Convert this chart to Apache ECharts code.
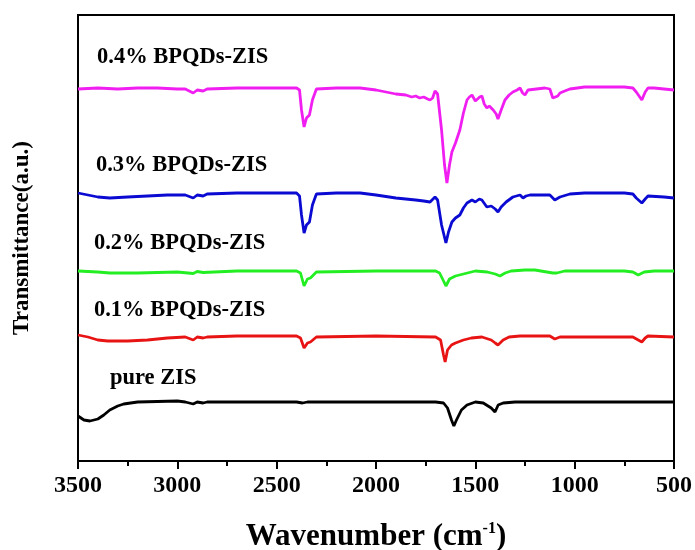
<!DOCTYPE html>
<html style="height: 100%">
<head>
<meta charset="UTF-8" />
<title>FTIR BPQDs-ZIS</title>
<style>
html, body { margin: 0; padding: 0; background: #ffffff; }
#chartBox { width: 695px; height: 550px; }
</style>
</head>
<body>
	<div id="chartBox"></div>

	<script src="https://cdn.jsdelivr.net/npm/echarts@6/dist/echarts.min.js"></script>
	<script>
		// 谱线数据 [波数 cm-1, 透过率 a.u.]
		var seriesNames = ['0.4% BPQDs-ZIS', '0.3% BPQDs-ZIS', '0.2% BPQDs-ZIS', '0.1% BPQDs-ZIS', 'pure ZIS'];
		var seriesColors = ['#f01ef0', '#0a0ad2', '#22ee22', '#e81414', '#000000'];

		var bp04 = [
			[3500, 372], [3400, 373], [3300, 372], [3200, 373], [3100, 373], [3000, 372], [2960, 372],
			[2920, 368], [2900, 371], [2870, 370], [2850, 372], [2700, 373], [2500, 373], [2400, 373],
			[2385, 371], [2375, 351], [2362, 334], [2350, 343], [2335, 346], [2320, 361], [2300, 372],
			[2200, 373], [2080, 373], [2000, 371], [1950, 369], [1900, 367], [1850, 366], [1820, 364],
			[1800, 365], [1780, 363], [1760, 364], [1740, 362], [1728, 361], [1715, 363], [1703, 370],
			[1690, 367], [1670, 331], [1655, 296], [1643, 278], [1630, 296], [1618, 309], [1600, 318],
			[1578, 331], [1560, 348], [1542, 361], [1530, 364], [1517, 366], [1500, 360], [1490, 359],
			[1478, 364], [1467, 365], [1455, 357], [1442, 353], [1430, 355], [1410, 351], [1395, 347],
			[1386, 342], [1370, 351], [1351, 361], [1330, 366], [1311, 369], [1290, 371], [1275, 373],
			[1262, 368], [1250, 366], [1235, 371], [1225, 373], [1150, 373], [1125, 372], [1110, 363],
			[1100, 361], [1085, 365], [1074, 368], [1050, 370], [1024, 372], [950, 374], [850, 374],
			[750, 374], [707, 373], [690, 369], [662, 361], [645, 369], [631, 373], [600, 373],
			[550, 372], [500, 371]
		];
		var bp03 = [
			[3500, 268], [3450, 266], [3400, 264], [3340, 263], [3250, 264], [3150, 265], [3050, 266],
			[2960, 266], [2920, 263], [2900, 266], [2870, 265], [2850, 267], [2700, 268], [2500, 268],
			[2400, 268], [2385, 265], [2375, 246], [2362, 228], [2350, 236], [2335, 239], [2320, 256],
			[2300, 267], [2200, 268], [2080, 268], [2000, 266], [1900, 263], [1850, 262], [1800, 261],
			[1760, 260], [1728, 259], [1703, 264], [1690, 261], [1670, 236], [1648, 218], [1635, 229],
			[1618, 239], [1600, 243], [1578, 246], [1560, 253], [1542, 258], [1517, 261], [1500, 259],
			[1480, 262], [1467, 261], [1442, 254], [1420, 255], [1400, 252], [1386, 249], [1370, 254],
			[1345, 259], [1311, 264], [1275, 266], [1260, 263], [1245, 265], [1225, 266], [1125, 266],
			[1100, 261], [1074, 264], [1024, 267], [950, 268], [750, 268], [707, 267], [690, 263],
			[662, 258], [645, 262], [631, 265], [550, 264], [500, 263]
		];
		var bp02 = [
			[3500, 190], [3400, 189], [3340, 188], [3200, 188], [3000, 189], [2920, 187.5], [2900, 189.5],
			[2870, 188.5], [2700, 190], [2400, 190], [2380, 188], [2362, 175], [2345, 182], [2330, 183],
			[2300, 189], [2000, 190], [1700, 190], [1680, 188], [1660, 180], [1648, 175], [1630, 182],
			[1600, 185], [1560, 187], [1540, 188], [1500, 190], [1440, 189], [1400, 187], [1376, 185],
			[1350, 188], [1320, 190], [1250, 191], [1200, 191], [1110, 188], [1090, 188], [1050, 190],
			[750, 190], [707, 189], [680, 186], [650, 189], [600, 190], [500, 190]
		];
		var bp01 = [
			[3500, 126], [3450, 124], [3400, 121], [3350, 120], [3250, 120], [3150, 121], [3050, 123],
			[2960, 124], [2920, 121], [2900, 124], [2870, 123], [2850, 124], [2700, 125], [2400, 125],
			[2380, 123], [2362, 113], [2345, 118], [2330, 119], [2300, 124], [2000, 125], [1700, 124],
			[1675, 121], [1660, 106], [1652, 99], [1640, 111], [1620, 116], [1600, 118], [1560, 121],
			[1520, 123], [1467, 124], [1420, 121], [1400, 118], [1386, 116], [1360, 121], [1330, 124],
			[1275, 125], [1125, 125], [1100, 122], [1074, 124], [750, 124], [707, 124], [680, 121],
			[662, 119], [645, 123], [631, 125], [500, 124]
		];
		var pureZIS = [
			[3500, 45], [3470, 41], [3440, 40], [3400, 42], [3370, 46], [3340, 51], [3300, 55],
			[3270, 57], [3200, 59], [3100, 59.5], [3000, 60], [2960, 59], [2920, 57], [2900, 59],
			[2870, 58], [2850, 59], [2700, 59], [2400, 59], [2370, 58], [2362, 57], [2345, 59],
			[2000, 59], [1700, 59], [1660, 58], [1640, 53], [1620, 41], [1608, 35], [1595, 41],
			[1570, 51], [1542, 56], [1500, 59], [1460, 58], [1420, 53], [1401, 49], [1385, 56],
			[1360, 58], [1300, 59], [1000, 59], [700, 59], [500, 59]
		];
		var spectra = [bp04, bp03, bp02, bp01, pureZIS];

		// 曲线名称标注的位置（数据坐标）
		var labelCoords = [[3404, 404], [3410, 296], [3420, 218], [3420, 151], [3339, 83]];

		var fontName = '"Liberation Serif", "Times New Roman", serif';
		var myChart = echarts.init(document.getElementById('chartBox'));

		var seriesList = [];
		for (var i = 0; i < spectra.length; i++) {
			seriesList.push({
				name : seriesNames[i],
				type : 'line',
				data : spectra[i],
				symbol : 'none',
				animation : false,
				lineStyle : {
					color : seriesColors[i],
					width : 2.8
				},
				markPoint : {
					symbol : 'circle',
					symbolSize : 0,
					data : [ {
						coord : labelCoords[i],
						value : seriesNames[i]
					} ],
					label : {
						show : true,
						position : 'right',
						distance : 0,
						formatter : seriesNames[i],
						color : '#000',
						fontFamily : fontName,
						fontWeight : 'bold',
						fontSize : 22.5
					}
				}
			});
		}

		var option = {
			backgroundColor : '#ffffff',
			animation : false,
			grid : {
				left : 78,
				right : 21,
				top : 15,
				bottom : 89,
				outerBoundsMode : 'none',
				containLabel : false,
				show : true,
				borderColor : '#000',
				borderWidth : 2
			},
			xAxis : {
				type : 'value',
				inverse : true,
				min : 500,
				max : 3500,
				interval : 500,
				name : 'Wavenumber (cm{sup|-1})',
				nameLocation : 'middle',
				nameGap : 60,
				nameTextStyle : {
					color : '#000',
					fontFamily : fontName,
					fontWeight : 'bold',
					fontSize : 31,
					rich : {
						sup : {
							fontFamily : fontName,
							fontWeight : 'bold',
							fontSize : 16,
							verticalAlign : 'top',
							padding : [0, 0, 14, 0]
						}
					}
				},
				axisLine : {
					show : true,
					lineStyle : { color : '#000', width : 2 }
				},
				axisTick : {
					show : true,
					inside : false,
					length : 8,
					lineStyle : { color : '#000', width : 2 }
				},
				minorTick : {
					show : true,
					splitNumber : 2,
					length : 5,
					lineStyle : { color : '#000', width : 2 }
				},
				axisLabel : {
					color : '#000',
					fontFamily : fontName,
					fontWeight : 'bold',
					fontSize : 24,
					margin : 13,
					formatter : function (v) { return String(v); }
				},
				splitLine : { show : false }
			},
			yAxis : {
				type : 'value',
				min : 0,
				max : 446,
				name : 'Transmittance(a.u.)',
				nameLocation : 'middle',
				nameGap : 44,
				nameTextStyle : {
					color : '#000',
					fontFamily : fontName,
					fontWeight : 'bold',
					fontSize : 23
				},
				axisLine : { show : false },
				axisTick : { show : false },
				axisLabel : { show : false },
				splitLine : { show : false }
			},
			series : seriesList
		};
		myChart.setOption(option);
	</script>
</body>
</html>
